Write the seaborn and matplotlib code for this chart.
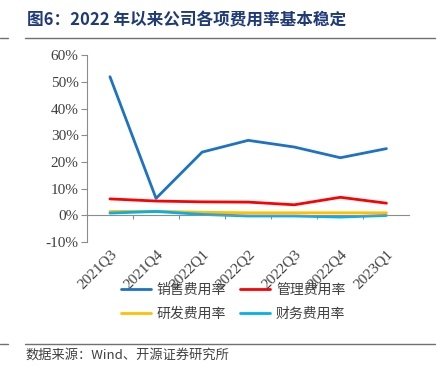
import pandas as pd
import matplotlib.pyplot as plt
import seaborn as sns
from matplotlib.lines import Line2D
from matplotlib.ticker import FuncFormatter, MultipleLocator

# 数据
quarters = ["2021Q3", "2021Q4", "2022Q1", "2022Q2", "2022Q3", "2022Q4", "2023Q1"]
sales_rate = [51.9, 6.4, 23.7, 28.1, 25.6, 21.6, 25.0]
admin_rate = [6.2, 5.4, 5.1, 5.0, 4.0, 6.8, 4.6]
rd_rate = [1.5, 1.6, 1.2, 1.0, 1.0, 1.0, 1.0]
fin_rate = [0.9, 1.5, 0.4, -0.2, -0.2, -0.6, 0.0]

series_names = ["销售费用率", "管理费用率", "研发费用率", "财务费用率"]
colors = ["#1C72C4", "#FF0000", "#FFC000", "#00B0F0"]

df = pd.DataFrame({"quarter": quarters * 4,
                   "x": list(range(len(quarters))) * 4,
                   "series": [s for s in series_names for _ in quarters],
                   "value": sales_rate + admin_rate + rd_rate + fin_rate})

sns.set_style("white")
plt.rcParams['font.family'] = ['Liberation Serif', 'Noto Sans CJK SC', 'DejaVu Sans']

fig = plt.figure(figsize=(4.48, 3.67), dpi=100)
ax = fig.add_axes([0.194, 0.34, 0.72, 0.51])

sns.lineplot(data=df, x="x", y="value", hue="series", palette=colors,
             linewidth=2, ax=ax, legend=False)

ax.set_xlim(-0.5, len(quarters) - 0.5)
ax.set_ylim(-10, 60)
ax.yaxis.set_major_locator(MultipleLocator(10))
ax.yaxis.set_major_formatter(FuncFormatter(lambda v, p: f"{v:.0f}%"))

grey = "#8c8c8c"
for s in ["top", "right"]:
    ax.spines[s].set_visible(False)
ax.spines["left"].set_color(grey)
ax.spines["bottom"].set_color(grey)
ax.spines["bottom"].set_position(("data", 0))

# 0 轴上的刻度放在类别之间
ax.set_xticks([i + 0.5 for i in range(len(quarters) - 1)])
ax.tick_params(axis="x", bottom=True, length=3, color=grey, labelbottom=False)
ax.tick_params(axis="y", left=True, length=4, color=grey, labelsize=11,
               labelcolor="#404040", pad=2)

# 类别标签放在底部
sec = ax.secondary_xaxis(0)
sec.set_xticks(range(len(quarters)))
sec.set_xticklabels(quarters, rotation=45, ha="right", rotation_mode="anchor",
                    fontsize=11, color="#404040")
sec.tick_params(length=0, pad=4)
sec.spines["bottom"].set_visible(False)
ax.set_xlabel("")
ax.set_ylabel("")

# 图例（按行排列）
order = [0, 2, 1, 3]
handles = [Line2D([0], [0], color=colors[i], lw=2) for i in order]
labels = [series_names[i] for i in order]
leg = fig.legend(handles, labels, ncol=2, loc="center", bbox_to_anchor=(0.52, 0.178),
                 frameon=False, handlelength=2.2, columnspacing=1.0,
                 handletextpad=0.4, labelspacing=0.75,
                 prop={"family": ["Noto Sans CJK SC"], "size": 10})
for t in leg.get_texts():
    t.set_color("#404040")

# 标题与来源
fig.text(0.06, 0.945, "图6：2022 年以来公司各项费用率基本稳定", fontsize=12, fontweight="bold",
         color="#1F3A78", family=["Noto Sans CJK SC", "DejaVu Sans"], va="center")
fig.add_artist(Line2D([0.056, 0.972], [0.896, 0.896], color="#707070", lw=1))
fig.add_artist(Line2D([0.0, 0.018], [0.896, 0.896], color="#707070", lw=1))
fig.add_artist(Line2D([0.056, 0.972], [0.063, 0.063], color="#707070", lw=1))
fig.add_artist(Line2D([0.0, 0.018], [0.063, 0.063], color="#707070", lw=1))
fig.text(0.058, 0.032, "数据来源：Wind、开源证券研究所", fontsize=9.5, color="#404040",
         family=["Noto Sans CJK SC", "DejaVu Sans"], va="center")

fig.savefig("out.png", dpi=100)
